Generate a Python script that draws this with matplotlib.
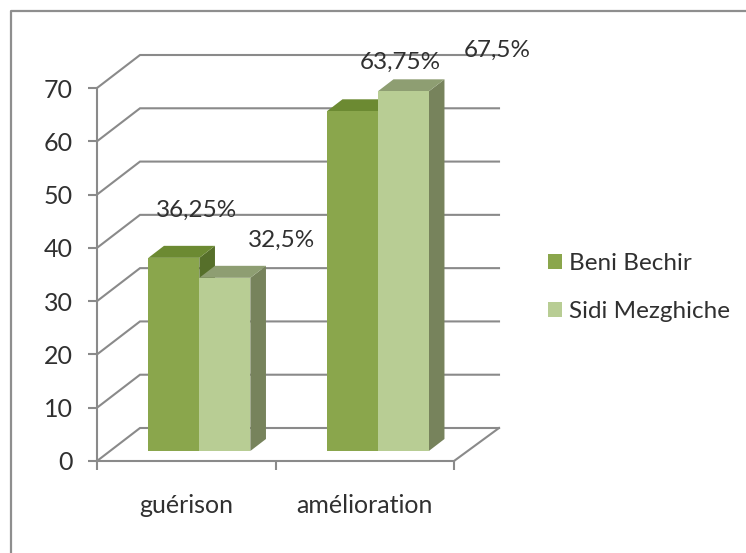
import matplotlib
matplotlib.use("Agg")
import matplotlib.pyplot as plt
from matplotlib.patches import Polygon, Patch
from matplotlib.lines import Line2D

categories = ["guérison", "amélioration"]
series_names = ["Beni Bechir", "Sidi Mezghiche"]
beni_bechir = [36.25, 63.75]
sidi_mezghiche = [32.5, 67.5]
labels_beni = ["36,25%", "63,75%"]
labels_sidi = ["32,5%", "67,5%"]
y_ticks = [0, 10, 20, 30, 40, 50, 60, 70]

W, H = 746, 553
FONT = "Lato"
TXT = "#303030"
GRID = "#8A8A8A"
LW = 1.5
front_c = ["#8AA64C", "#B8CD94"]
top_c = ["#6C8A32", "#8E9E72"]
side_c = ["#566F2A", "#77835C"]

plt.rcParams["font.family"] = [FONT, "DejaVu Sans"]
fig = plt.figure(figsize=(W / 100, H / 100), dpi=100, facecolor="white")

# frame (open at bottom and right, it runs off the image)
fig.add_artist(Line2D([10.5 / W, 10.5 / W, 1], [0, 1 - 11 / H, 1 - 11 / H],
                      transform=fig.transFigure, color="#8E8E8E", lw=1.6))

ax = fig.add_axes([97 / W, (H - 461) / H, (454 - 97) / W, 373 / H])
ax.set_xlim(0, 2)
ax.set_ylim(0, 70)
ax.patch.set_visible(False)
px_x = 2 / (454 - 97)
px_y = 70 / 373
DX, DY = 43 * px_x, 33 * px_y

# 3D wall gridlines
for v in y_ticks:
    ax.plot([0, DX, 2 + 45 * px_x], [v, v + DY, v + DY],
            color=GRID, lw=LW, clip_on=False, zorder=1, solid_joinstyle="miter")
ax.plot([2, 2 + 45 * px_x], [0, DY], color=GRID, lw=LW, clip_on=False, zorder=1)

# bars
GAP = 0.2146
BW = 0.2857
D0, D1 = 10 / 33, 22 / 33


def P(x, y, d):
    return (x + d * DX, y + d * DY)


def bar3d(x0, v, i):
    x1 = x0 + BW
    ax.add_patch(Polygon([P(x1, 0, D0), P(x1, 0, D1), P(x1, v, D1), P(x1, v, D0)],
                         fc=side_c[i], ec="none", clip_on=False, zorder=3))
    ax.add_patch(Polygon([P(x0, v, D0), P(x1, v, D0), P(x1, v, D1), P(x0, v, D1)],
                         fc=top_c[i], ec="none", clip_on=False, zorder=3))
    ax.add_patch(Polygon([P(x0, 0, D0), P(x1, 0, D0), P(x1, v, D0), P(x0, v, D0)],
                         fc=front_c[i], ec="none", clip_on=False, zorder=4))


for g in range(len(categories)):
    bar3d(g + GAP, beni_bechir[g], 0)
    bar3d(g + GAP + BW, sidi_mezghiche[g], 1)

# data labels: (pixel offset from centre of the front top edge)
offs = {(0, 0): (23, 47), (0, 1): (57, 37), (1, 0): (48, 49), (1, 1): (94, 41)}
for g in range(len(categories)):
    for i, (vals, labs) in enumerate([(beni_bechir, labels_beni), (sidi_mezghiche, labels_sidi)]):
        xc, yc = P(g + GAP + BW * (i + 0.5), vals[g], D0)
        ax.annotate(labs[g], (xc, yc), xytext=offs[(g, i)], textcoords="offset pixels",
                    ha="center", va="center", fontsize=17.5, color=TXT,
                    annotation_clip=False, zorder=6)

# axes
for s in ("top", "right"):
    ax.spines[s].set_visible(False)
for s in ("left", "bottom"):
    ax.spines[s].set_color(GRID)
    ax.spines[s].set_linewidth(LW)
    ax.spines[s].set_zorder(2)
ax.set_yticks(y_ticks)
ax.set_yticklabels([str(v) for v in y_ticks], fontsize=18, color=TXT)
ax.tick_params(axis="y", length=6.5, width=LW, color=GRID, pad=11)
ax.set_xticks([0, 1, 2])
ax.set_xticklabels([])
ax.set_xticks([0.5, 1.5], minor=True)
ax.set_xticklabels(categories, minor=True, fontsize=18, color=TXT)
ax.tick_params(axis="x", which="major", length=6.5, width=LW, color=GRID)
ax.tick_params(axis="x", which="minor", length=0, pad=24)

# legend
handles = [Patch(fc=front_c[0], ec="none"), Patch(fc=front_c[1], ec="none")]
fig.legend(handles, series_names, loc="upper left",
           bbox_to_anchor=(548 / W, 1 - 253 / H), frameon=False, fontsize=17.5,
           labelcolor=TXT, handlelength=0.58, handleheight=0.58, handletextpad=0.3,
           labelspacing=1.12, borderpad=0, borderaxespad=0)

fig.savefig("out.png", dpi=100, facecolor="white")
